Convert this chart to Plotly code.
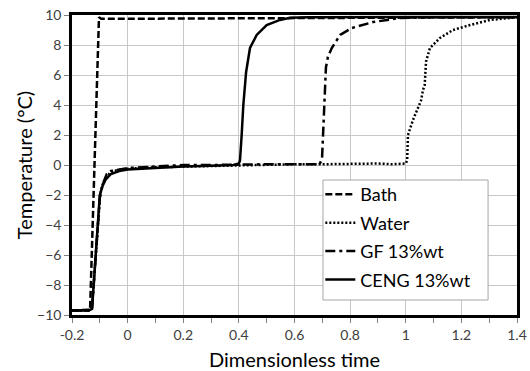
import plotly.graph_objects as go

# ---- data ----
bath_x = [-0.2, -0.15, -0.135, -0.103, -0.095, 0.0, 0.1, 0.3, 0.5, 0.7, 0.9, 1.1, 1.3, 1.4]
bath_t = [-9.7, -9.7, -9.65, 9.85, 9.75, 9.75, 9.75, 9.78, 9.8, 9.8, 9.82, 9.85, 9.85, 9.85]

water_x = [-0.2, -0.14, -0.128, -0.115, -0.099, -0.09, -0.081, -0.063, -0.04, 0.0, 0.1, 0.2,
           0.3, 0.4, 0.5, 0.6, 0.7, 0.8, 0.9, 0.95, 1.0, 1.005, 1.008, 1.026, 1.048, 1.055,
           1.062, 1.068, 1.073, 1.087, 1.123, 1.17, 1.231, 1.303, 1.375, 1.4]
water_t = [-9.7, -9.7, -9.5, -6.0, -2.0, -1.3, -1.0, -0.5, -0.35, -0.25, -0.15, -0.1,
           -0.05, 0.0, 0.05, 0.05, 0.05, 0.1, 0.1, 0.05, 0.1, 0.3, 2.0, 3.0, 4.0, 4.3,
           5.0, 5.3, 6.9, 7.8, 8.47, 9.0, 9.33, 9.67, 9.8, 9.85]

gf_x = [-0.2, -0.14, -0.128, -0.11, -0.1, -0.09, -0.075, -0.06, -0.03, 0.0, 0.1, 0.2, 0.3,
        0.4, 0.5, 0.6, 0.69, 0.699, 0.705, 0.713, 0.72, 0.734, 0.764, 0.806, 0.882, 0.98,
        1.1, 1.25, 1.4]
gf_t = [-9.7, -9.7, -9.6, -5.0, -2.2, -1.3, -0.6, -0.4, -0.3, -0.2, -0.1, 0.0, 0.0,
        0.05, 0.05, 0.05, 0.05, 0.4, 3.5, 6.5, 7.2, 7.8, 8.67, 9.13, 9.53, 9.8,
        9.85, 9.85, 9.85]

ceng_x = [-0.2, -0.14, -0.128, -0.11, -0.1, -0.09, -0.08, -0.06, -0.03, 0.0, 0.1, 0.2, 0.3,
          0.38, 0.4, 0.404, 0.41, 0.416, 0.426, 0.44, 0.464, 0.5, 0.548, 0.584, 0.65, 0.8,
          1.0, 1.2, 1.4]
ceng_t = [-9.7, -9.7, -9.6, -4.5, -2.0, -1.4, -1.0, -0.6, -0.4, -0.3, -0.18, -0.1, -0.05,
          0.0, 0.1, 0.3, 2.0, 4.0, 6.2, 7.8, 8.67, 9.33, 9.67, 9.82, 9.85, 9.87,
          9.87, 9.87, 9.87]

series_names = ["Bath", "Water", "GF 13%wt", "CENG 13%wt"]

x_tickvals = [-0.2, 0, 0.2, 0.4, 0.6, 0.8, 1.0, 1.2, 1.4]
x_ticktext = ["-0.2", "0", "0.2", "0.4", "0.6", "0.8", "1", "1.2", "1.4"]
y_tickvals = [-10, -8, -6, -4, -2, 0, 2, 4, 6, 8, 10]

FONT = "Lato"

fig = go.Figure()
styles = [
    dict(dash="7px,3px", width=2.5),
    dict(dash="2px,2px", width=2.5),
    dict(dash="10px,4px,3px,4px", width=2.5),
    dict(dash="solid", width=2.5),
]
data = [(bath_x, bath_t), (water_x, water_t), (gf_x, gf_t), (ceng_x, ceng_t)]
for i, ((xs, ts), name, st) in enumerate(zip(data, series_names, styles)):
    fig.add_trace(go.Scatter(
        x=xs, y=ts, mode="lines", name=name, legendgroup=f"g{i}",
        line=dict(color="black", width=st["width"], dash=st["dash"]),
    ))

# legend frame
fig.add_shape(type="rect", xref="paper", yref="paper",
              x0=0.564, x1=0.935, y0=0.05, y1=0.45,
              fillcolor="white", line=dict(color="#a6a6a6", width=1), layer="above")

fig.update_layout(
    width=530, height=371,
    margin=dict(l=72, r=13, t=15, b=56),
    paper_bgcolor="white", plot_bgcolor="white",
    font=dict(family=FONT, color="#404040"),
    showlegend=True,
    legend=dict(
        x=0.558, y=0.463, xanchor="left", yanchor="top",
        bgcolor="rgba(0,0,0,0)", borderwidth=0,
        font=dict(family=FONT, size=18, color="black"),
        tracegroupgap=2,
    ),
    xaxis=dict(
        range=[-0.2, 1.4], tickvals=x_tickvals, ticktext=x_ticktext,
        showgrid=True, gridcolor="#c8c8c8", gridwidth=1,
        showline=True, linecolor="black", linewidth=2.5, mirror=True,
        ticks="outside", ticklen=5, tickcolor="#808080", tickwidth=1,
        minor=dict(dtick=0.1, tick0=0, ticks="outside", ticklen=5, tickcolor="#808080", showgrid=False),
        tickfont=dict(size=14, color="#404040"),
        title=dict(text="Dimensionless time", font=dict(size=20, color="black"), standoff=12),
        zeroline=False, automargin=False,
    ),
    yaxis=dict(
        range=[-10, 10], tickvals=y_tickvals,
        showgrid=True, gridcolor="#c8c8c8", gridwidth=1,
        showline=True, linecolor="black", linewidth=2.5, mirror=True,
        ticks="outside", ticklen=5, tickcolor="#808080", tickwidth=1,
        tickfont=dict(size=14, color="#404040"),
        title=dict(text="Temperature (°C)", font=dict(size=20, color="black"), standoff=0),
        zeroline=False, automargin=False,
    ),
)

fig.write_html("out.html", config={"displayModeBar": False},
               post_script="document.body.style.margin='0';document.body.style.padding='0';")
